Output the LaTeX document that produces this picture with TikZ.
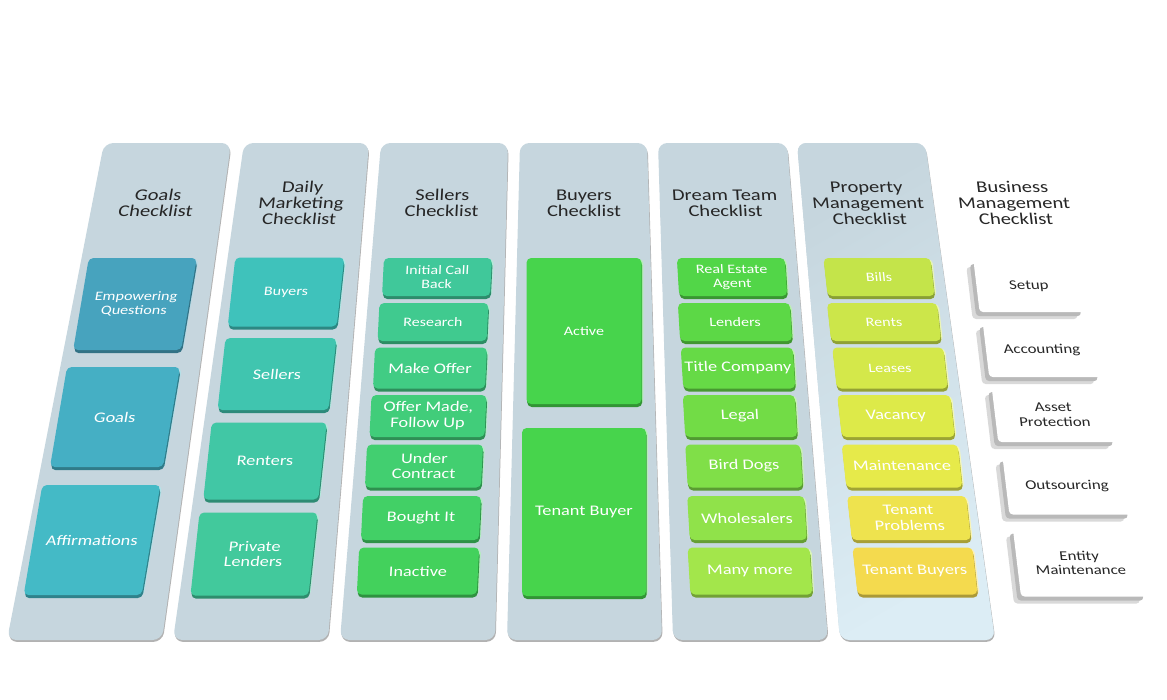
\documentclass[tikz,border=0pt]{standalone}
\usepackage{fontspec}
\setmainfont{Carlito}[FakeStretch=1.25]
\usepackage{tikz}
\usetikzlibrary{shadows}
\definecolor{colBack}{HTML}{C6D6DE}
\definecolor{colBackL}{HTML}{DCEDF5}
\definecolor{cGoalA}{HTML}{47A3BE}
\definecolor{cGoalB}{HTML}{45AFC4}
\definecolor{cGoalC}{HTML}{44BAC6}
\definecolor{cMktA}{HTML}{3FC2BB}
\definecolor{cMktB}{HTML}{40C5AF}
\definecolor{cMktC}{HTML}{41C7A5}
\definecolor{cMktD}{HTML}{42C99C}
\definecolor{cSelA}{HTML}{40C89A}
\definecolor{cSelB}{HTML}{40CA8F}
\definecolor{cSelC}{HTML}{41CC84}
\definecolor{cSelD}{HTML}{41CD7A}
\definecolor{cSelE}{HTML}{42CF70}
\definecolor{cSelF}{HTML}{42D066}
\definecolor{cSelG}{HTML}{43D15C}
\definecolor{cBuy}{HTML}{47D44C}
\definecolor{cTeamA}{HTML}{52D648}
\definecolor{cTeamB}{HTML}{5CD846}
\definecolor{cTeamC}{HTML}{66DA46}
\definecolor{cTeamD}{HTML}{72DC46}
\definecolor{cTeamE}{HTML}{80DF48}
\definecolor{cTeamF}{HTML}{90E24A}
\definecolor{cTeamG}{HTML}{A3E64B}
\definecolor{cPropA}{HTML}{C4E44A}
\definecolor{cPropB}{HTML}{CCE64A}
\definecolor{cPropC}{HTML}{D4E84A}
\definecolor{cPropD}{HTML}{DDEA49}
\definecolor{cPropE}{HTML}{E6EA4A}
\definecolor{cPropF}{HTML}{EEE34E}
\definecolor{cPropG}{HTML}{F4DA4E}
\tikzset{
   colm/.style={fill=colBack, rounded corners=8pt,
      general shadow={fill=white, shadow xshift=1.3pt},
      general shadow={fill=gray!60, shadow xshift=0.6pt, shadow yshift=-1.6pt}},
   head/.style={text=black!85, font=\fontsize{14}{13.5}\selectfont, align=center, transform shape},
   itm/.style={fill=#1, text=white, rounded corners=4pt, inner sep=1pt, align=center,
      font=\fontsize{12.5}{13.5}\selectfont, transform shape,
      general shadow={fill=#1!40!white, shadow xshift=1.6pt, shadow yshift=-0.8pt},
      general shadow={fill=#1!70!black, shadow xshift=0.6pt, shadow yshift=-2.6pt}},
   sm/.style={font=\fontsize{11}{11.5}\selectfont},
   sz/.style 2 args={minimum width=#1*0.03cm, minimum height=#2*0.03cm},
   biz/.style={fill=white, text=black!85, rounded corners=3pt, align=center,
      font=\fontsize{11.5}{12.5}\selectfont, transform shape,
      general shadow={fill=gray!30, shadow xshift=-6pt, shadow yshift=-6pt},
      general shadow={fill=gray!55, shadow xshift=-3pt, shadow yshift=-3.5pt}},
}
\begin{document}
\begin{tikzpicture}[x=0.03cm, y=-0.03cm]

\useasboundingbox (0,0) rectangle (1167,700);

% =========================================================
% Goals Checklist
% =========================================================

\path[colm] (104,143) -- (231,143) -- (162,640) -- (7,640) -- cycle;

\node[head, xslant=0.17] (goalsT) at (157,203) {Goals\\Checklist};

\node[itm=cGoalA, sz={108}{92}, xslant=0.17, sm] (goalsA) at (135,304) {Empowering\\Questions};
\node[itm=cGoalB, sz={113}{100}, xslant=0.17] (goalsB) at (115,417) {Goals};
\node[itm=cGoalC, sz={118}{110}, xslant=0.17] (goalsC) at (92,540) {Affirmations};


% =========================================================
% Daily Marketing Checklist
% =========================================================

\path[colm] (244,143) -- (369,143) -- (328,640) -- (173,640) -- cycle;

\node[head, xslant=0.11] (mktT) at (301,203) {Daily\\Marketing\\Checklist};

\node[itm=cMktA, sz={109}{69}, xslant=0.11, sm] (mktA) at (286,292) {Buyers};
\node[itm=cMktB, sz={111}{72}, xslant=0.11] (mktB) at (277,374) {Sellers};
\node[itm=cMktC, sz={115}{77}, xslant=0.11] (mktC) at (265,461) {Renters};
\node[itm=cMktD, sz={118}{83}, xslant=0.11] (mktD) at (254,554) {Private\\Lenders};


% =========================================================
% Sellers Checklist
% =========================================================

\path[colm] (381,143) -- (508,143) -- (495,640) -- (340,640) -- cycle;

\node[head, xslant=0.05] (selT) at (442,203) {Sellers\\Checklist};

\node[itm=cSelA, sz={108}{38}, xslant=0.05, sm] (selA) at (437,277) {Initial Call\\Back};
\node[itm=cSelB, sz={109}{38}, xslant=0.05, sm] (selB) at (433,322) {Research};
\node[itm=cSelC, sz={112}{41}, xslant=0.05] (selC) at (430,368) {Make Offer};
\node[itm=cSelD, sz={115}{42}, xslant=0.05] (selD) at (428,416) {Offer Made,\\Follow Up};
\node[itm=cSelE, sz={116}{43}, xslant=0.05] (selE) at (424,466) {Under\\Contract};
\node[itm=cSelF, sz={118}{44}, xslant=0.05] (selF) at (421,518) {Bought It};
\node[itm=cSelG, sz={120}{47}, xslant=0.05] (selG) at (418,571) {Inactive};


% =========================================================
% Buyers Checklist
% =========================================================

\path[colm] (520,143) -- (647,143) -- (662,640) -- (507,640) -- cycle;

\node[head] (buyT) at (584,203) {Buyers\\Checklist};

\node[itm=cBuy, sz={115}{146}, sm] (buyA) at (584,331) {Active};
\node[itm=cBuy, sz={124}{168}] (buyB) at (584,512) {Tenant Buyer};


% =========================================================
% Dream Team Checklist
% =========================================================

\path[colm] (658,143) -- (787,143) -- (828,640) -- (673,640) -- cycle;

\node[head, xslant=-0.06] (teamT) at (725,203) {Dream Team\\Checklist};

\node[itm=cTeamA, sz={108}{38}, xslant=-0.06, sm] (teamA) at (732,277) {Real Estate\\Agent};
\node[itm=cTeamB, sz={112}{38}, xslant=-0.06, sm] (teamB) at (735,322) {Lenders};
\node[itm=cTeamC, sz={112}{41}, xslant=-0.06] (teamC) at (738,368) {Title Company};
\node[itm=cTeamD, sz={112}{42}, xslant=-0.06] (teamD) at (740,416) {Legal};
\node[itm=cTeamE, sz={115}{43}, xslant=-0.06] (teamE) at (744,466) {Bird Dogs};
\node[itm=cTeamF, sz={117}{44}, xslant=-0.06] (teamF) at (747,518) {Wholesalers};
\node[itm=cTeamG, sz={122}{47}, xslant=-0.06] (teamG) at (750,571) {Many more};


% =========================================================
% Property Management Checklist
% =========================================================

\path[colm, top color=colBack, bottom color=colBackL, shading angle=30] (797,143) -- (925,143) -- (995,640) -- (840,640) -- cycle;

\node[head, xslant=-0.11] (propT) at (868,203) {Property\\Management\\Checklist};

\node[itm=cPropA, sz={107}{38}, xslant=-0.11, sm] (propA) at (879,277) {Bills};
\node[itm=cPropB, sz={110}{38}, xslant=-0.11, sm] (propB) at (884,322) {Rents};
\node[itm=cPropC, sz={111}{41}, xslant=-0.11, sm] (propC) at (890,368) {Leases};
\node[itm=cPropD, sz={113}{42}, xslant=-0.11] (propD) at (896,416) {Vacancy};
\node[itm=cPropE, sz={116}{43}, xslant=-0.11] (propE) at (902,466) {Maintenance};
\node[itm=cPropF, sz={119}{44}, xslant=-0.11] (propF) at (909,518) {Tenant\\Problems};
\node[itm=cPropG, sz={120}{47}, xslant=-0.11] (propG) at (915,571) {Tenant Buyers};


% =========================================================
% Business Management Checklist
% =========================================================

\node[head, xslant=-0.12] (bizT) at (1014,203) {Business\\Management\\Checklist};

\node[biz, sz={105}{52}, xslant=-0.12] (bizA) at (1029,286) {Setup};
\node[biz, sz={112}{54}, xslant=-0.12] (bizB) at (1042,350) {Accounting};
\node[biz, sz={118}{54}, xslant=-0.12] (bizC) at (1054,415) {Asset\\Protection};
\node[biz, sz={122}{57}, xslant=-0.12] (bizD) at (1067,486) {Outsourcing};
\node[biz, sz={126}{67}, xslant=-0.12] (bizE) at (1080,563) {Entity\\Maintenance};

\end{tikzpicture}
\end{document}
